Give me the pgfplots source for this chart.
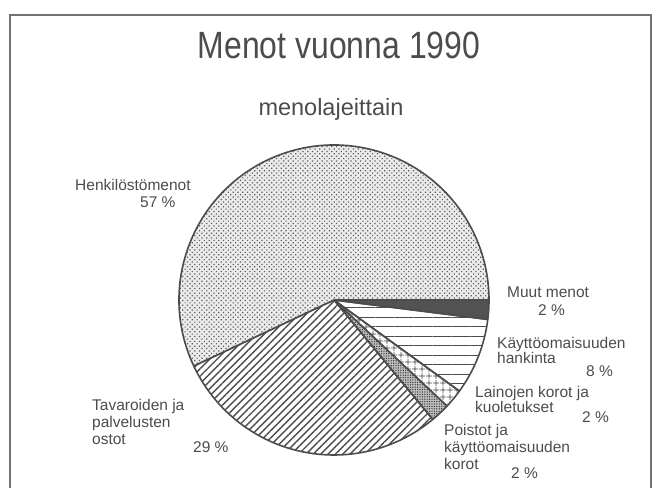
\documentclass[border=0pt]{standalone}
\usepackage{pgfplots}
\pgfplotsset{compat=1.18}
\usepackage{pgfplotstable}
\usepackage{graphicx}
\usepackage{fontspec}
\setmainfont{Liberation Sans}
\usetikzlibrary{patterns.meta}
\definecolor{ink}{gray}{0.3}
\tikzset{
  slice/.style={draw=ink, line width=1.6pt, line join=round},
  s-muut/.style={fill=black!68},
  s-kaytto/.style={pattern={Lines[angle=0,distance=9.5pt,line width=1pt]}, pattern color=ink},
  s-lainat/.style={pattern={Hatch[angle=0,distance=6.5pt,line width=0.9pt]}, pattern color=ink},
  s-poistot/.style={preaction={fill=black!25}, pattern={Dots[distance=2.4pt,radius=0.7pt]}, pattern color=black!80},
  s-tavarat/.style={pattern={Lines[angle=45,distance=5.2pt,line width=1.4pt]}, pattern color=ink},
  s-henk/.style={preaction={fill=black!8}, pattern={Dots[distance=3.4pt,radius=0.85pt,angle=45]}, pattern color=black!65},
  lbl/.style={anchor=base west, inner sep=0pt, text=ink, font=\fontsize{15.5}{17}\selectfont},
}
\pgfplotstableread{
pct style
2 s-muut
8 s-kaytto
2 s-lainat
2 s-poistot
29 s-tavarat
57 s-henk
}\menot
\begin{document}
\begin{tikzpicture}
\begin{axis}[
  width=660pt, height=488pt, scale only axis,
  xmin=0, xmax=660, ymin=0, ymax=488,
  hide axis, clip=false,
]
\def\cum{0}
\pgfplotstablegetrowsof{\menot}
\pgfmathtruncatemacro\nlast{\pgfplotsretval-1}
\pgfplotsforeachungrouped \i in {0,...,\nlast}{%
  \pgfplotstablegetelem{\i}{pct}\of\menot \let\slicepct\pgfplotsretval
  \pgfplotstablegetelem{\i}{style}\of\menot \let\slicestyle\pgfplotsretval
  \pgfmathsetmacro\anga{-3.6*\cum}%
  \pgfmathsetmacro\angb{-3.6*(\cum+\slicepct)}%
  \edef\temp{\noexpand\draw[slice,\slicestyle] (axis cs:334,188) -- ++(\anga:155pt) arc[start angle=\anga,end angle=\angb,radius=155pt] -- cycle;}%
  \temp
  \pgfmathsetmacro\cum{\cum+\slicepct}%
}
\draw[draw=black!55, line width=1.5pt] (axis cs:10,0) -- (axis cs:10,473) -- (axis cs:651,473) -- (axis cs:651,0);
\node[anchor=base, inner sep=0pt, text=ink] at (axis cs:339,429) {\fontsize{38}{40}\selectfont\scalebox{0.84}[1]{Menot vuonna 1990}};
\node[anchor=base, inner sep=0pt, text=ink] at (axis cs:331,372) {\fontsize{23.5}{26}\selectfont menolajeittain};
\node[lbl] at (axis cs:75,298) {Henkilöstömenot};
\node[lbl] at (axis cs:140,281) {57 \%};
\node[lbl] at (axis cs:507,191) {Muut menot};
\node[lbl] at (axis cs:538,173) {2 \%};
\node[lbl] at (axis cs:497,140) {Käyttöomaisuuden};
\node[lbl] at (axis cs:497,125) {hankinta};
\node[lbl] at (axis cs:586,112) {8 \%};
\node[lbl] at (axis cs:475,91) {Lainojen korot ja};
\node[lbl] at (axis cs:475,76) {kuoletukset};
\node[lbl] at (axis cs:582,66) {2 \%};
\node[lbl] at (axis cs:444,53) {Poistot ja};
\node[lbl] at (axis cs:444,36) {käyttöomaisuuden};
\node[lbl] at (axis cs:444,19) {korot};
\node[lbl] at (axis cs:511,10) {2 \%};
\node[lbl] at (axis cs:92,78) {Tavaroiden ja};
\node[lbl] at (axis cs:92,61) {palvelusten};
\node[lbl] at (axis cs:92,44) {ostot};
\node[lbl] at (axis cs:193,36) {29 \%};
\end{axis}
\pgfresetboundingbox
\useasboundingbox (0,0) rectangle (660pt,488pt);
\end{tikzpicture}
\end{document}
